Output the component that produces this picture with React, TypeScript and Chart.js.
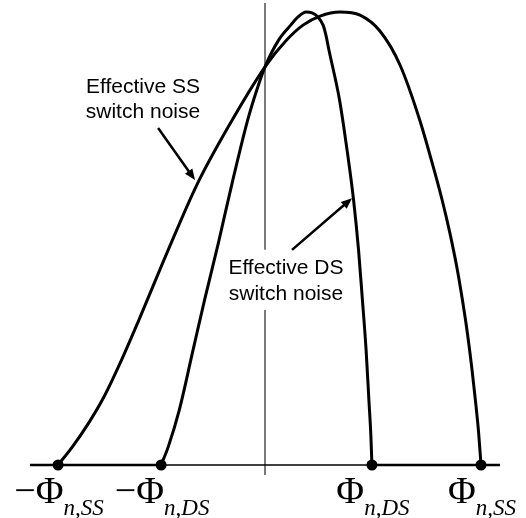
import React, { useEffect, useRef } from "react";
import { Chart, registerables } from "chart.js";

Chart.register(...registerables);

// Effective SS switch noise curve (x in units of Φn,SS, y normalised amplitude)
const ssX = [-0.958, -0.892, -0.816, -0.746, -0.664, -0.584, -0.448, -0.316, -0.178, 0, 0.1, 0.176, 0.255, 0.347, 0.44, 0.532, 0.625, 0.718, 0.779, 0.82, 0.856, 0.888, 0.914, 0.937, 0.957, 0.974, 0.989, 1.0];
const ssY = [0, 0.04, 0.093, 0.15, 0.232, 0.32, 0.475, 0.618, 0.74, 0.879, 0.938, 0.971, 0.991, 1.0, 0.993, 0.958, 0.883, 0.759, 0.658, 0.585, 0.512, 0.437, 0.364, 0.291, 0.216, 0.143, 0.071, 0];

// Effective DS switch noise curve
const dsX = [-0.481, -0.448, -0.397, -0.333, -0.28, -0.216, -0.149, -0.08, -0.038, 0, 0.063, 0.119, 0.153, 0.19, 0.218, 0.245, 0.269, 0.282, 0.296, 0.345, 0.38, 0.41, 0.433, 0.451, 0.468, 0.481, 0.49, 0.495];
const dsY = [0, 0.04, 0.121, 0.254, 0.364, 0.49, 0.629, 0.762, 0.828, 0.879, 0.938, 0.971, 0.989, 1.0, 0.998, 0.989, 0.971, 0.949, 0.916, 0.806, 0.695, 0.585, 0.475, 0.364, 0.254, 0.143, 0.066, 0];

// Tick marks on the horizontal axis
const tickValues = [-0.958, -0.481, 0.495, 1.0];
const tickSigns = ["\u2212", "\u2212", "", ""];
const tickSubs = ["n,SS", "n,DS", "n,DS", "n,SS"];

// Axis extent
const axisEnds = [-1.088, 1.088];
const vLineRange = [1.02, -0.022];
const vLineGap = [0.475, 0.342];

// Annotation texts
const ssNote = ["Effective SS", "switch noise"];
const dsNote = ["Effective DS", "switch noise"];

const SCALE_X = [-1.2269, 1.2083];
const SCALE_Y = [-0.117, 1.0265];

const toPts = (xs: number[], ys: number[]) => xs.map((x, i) => ({ x, y: ys[i] }));

const drawArrow = (ctx: CanvasRenderingContext2D, x1: number, y1: number, x2: number, y2: number) => {
  const ang = Math.atan2(y2 - y1, x2 - x1);
  const head = 11;
  const half = 4.5;
  ctx.save();
  ctx.strokeStyle = "#000";
  ctx.fillStyle = "#000";
  ctx.lineWidth = 2.5;
  ctx.beginPath();
  ctx.moveTo(x1, y1);
  ctx.lineTo(x2 - Math.cos(ang) * (head - 2), y2 - Math.sin(ang) * (head - 2));
  ctx.stroke();
  ctx.beginPath();
  ctx.moveTo(x2, y2);
  ctx.lineTo(x2 - Math.cos(ang) * head + Math.sin(ang) * half, y2 - Math.sin(ang) * head - Math.cos(ang) * half);
  ctx.lineTo(x2 - Math.cos(ang) * head - Math.sin(ang) * half, y2 - Math.sin(ang) * head + Math.cos(ang) * half);
  ctx.closePath();
  ctx.fill();
  ctx.restore();
};

const annotationPlugin = {
  id: "annotations",
  afterDatasetsDraw(chart: any) {
    const ctx: CanvasRenderingContext2D = chart.ctx;
    const xs = chart.scales.x;
    const ys = chart.scales.y;
    const px = (v: number) => xs.getPixelForValue(v);
    const py = (v: number) => ys.getPixelForValue(v);

    // notes
    ctx.save();
    ctx.fillStyle = "#000";
    ctx.font = '21px "Liberation Sans", Arial, sans-serif';
    ctx.textAlign = "center";
    ctx.textBaseline = "alphabetic";
    ctx.fillText(ssNote[0], px(-0.565), py(0.821));
    ctx.fillText(ssNote[1], px(-0.565), py(0.766));
    ctx.fillText(dsNote[0], px(0.097), py(0.422));
    ctx.fillText(dsNote[1], px(0.097), py(0.364));
    ctx.restore();

    drawArrow(ctx, px(-0.495), py(0.744), px(-0.324), py(0.629));
    drawArrow(ctx, px(0.125), py(0.475), px(0.403), py(0.589));

    // tick labels
    const axisY = py(0);
    const bigFont = '38px "Liberation Serif", "Times New Roman", serif';
    const subFont = 'italic 23px "Liberation Serif", "Times New Roman", serif';
    ctx.save();
    ctx.fillStyle = "#000";
    ctx.textAlign = "left";
    ctx.textBaseline = "alphabetic";
    tickValues.forEach((v, i) => {
      ctx.font = bigFont;
      const mainText = tickSigns[i] + "\u03A6";
      const wMain = ctx.measureText(mainText).width;
      ctx.font = subFont;
      const wSub = ctx.measureText(tickSubs[i]).width;
      const total = wMain + wSub;
      const left = px(v) + 1 - total / 2;
      ctx.font = bigFont;
      ctx.fillText(mainText, left, axisY + 38);
      ctx.font = subFont;
      ctx.fillText(tickSubs[i], left + wMain, axisY + 50);
    });
    ctx.restore();
  },
};

export default function App() {
  const ref = useRef<HTMLCanvasElement | null>(null);
  useEffect(() => {
    if (!ref.current) return;
    const curve = {
      borderColor: "#000",
      borderWidth: 3,
      pointRadius: 0,
      cubicInterpolationMode: "monotone",
      fill: false,
      clip: false as any,
    };
    const chart = new Chart(ref.current, {
      type: "line",
      data: {
        datasets: [
          {
            type: "scatter",
            data: tickValues.map((x) => ({ x, y: 0 })),
            pointRadius: 5.5,
            pointBackgroundColor: "#000",
            pointBorderColor: "#000",
            pointBorderWidth: 0,
            showLine: false,
            clip: false as any,
          } as any,
          { ...curve, data: toPts(ssX, ssY) } as any,
          { ...curve, data: toPts(dsX, dsY) } as any,
          {
            data: [
              { x: axisEnds[0], y: 0 },
              { x: tickValues[1], y: 0 },
            ],
            borderColor: "#000",
            borderWidth: 2.4,
            pointRadius: 0,
            clip: false as any,
          },
          {
            data: [
              { x: tickValues[1], y: 0 },
              { x: tickValues[2], y: 0 },
            ],
            borderColor: "#000",
            borderWidth: 1.4,
            pointRadius: 0,
            clip: false as any,
          },
          {
            data: [
              { x: tickValues[2], y: 0 },
              { x: axisEnds[1], y: 0 },
            ],
            borderColor: "#000",
            borderWidth: 2.4,
            pointRadius: 0,
            clip: false as any,
          },
          {
            data: [
              { x: 0, y: vLineRange[0] },
              { x: 0, y: vLineGap[0] },
              { x: 0, y: null },
              { x: 0, y: vLineGap[1] },
              { x: 0, y: vLineRange[1] },
            ],
            borderColor: "#222",
            borderWidth: 1.2,
            pointRadius: 0,
            spanGaps: false,
            clip: false as any,
          } as any,
        ],
      },
      options: {
        animation: false,
        responsive: true,
        maintainAspectRatio: false,
        layout: { padding: 0, autoPadding: false },
        plugins: { legend: { display: false }, tooltip: { enabled: false } },
        scales: {
          x: { type: "linear", display: false, min: SCALE_X[0], max: SCALE_X[1] },
          y: { type: "linear", display: false, min: SCALE_Y[0], max: SCALE_Y[1] },
        },
      },
      plugins: [annotationPlugin],
    });
    return () => chart.destroy();
  }, []);

  return (
    <div style={{ position: "fixed", left: 0, top: 0, width: 526, height: 518, background: "#fff" }}>
      <canvas ref={ref} />
    </div>
  );
}
